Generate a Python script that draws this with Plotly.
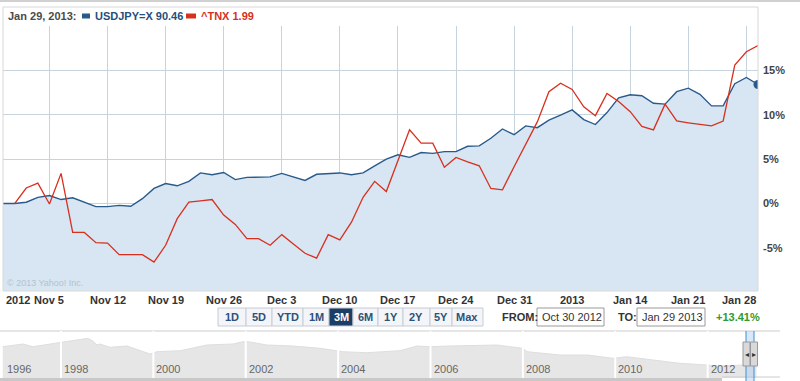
import pandas as pd
import plotly.graph_objects as go

# ---------------- data ----------------
dates = pd.bdate_range("2012-10-30", "2013-01-29")  # trading days shown on the axis

usdjpy_pct = [0, 0.0, 0.15, 0.7, 0.9, 0.45, 0.65, 0.15, -0.35, -0.35,
              -0.2, -0.3, 0.55, 1.7, 2.25, 2.0, 2.5, 3.45, 3.25, 3.5,
              2.7, 2.95, 3.0, 3.0, 3.4, 3.0, 2.6, 3.3, 3.35, 3.45,
              3.25, 3.45, 4.25, 5.0, 5.5, 5.2, 5.75, 5.65, 5.85, 5.85,
              6.45, 6.5, 7.35, 8.4, 7.75, 8.75, 8.55, 9.4, 9.95, 10.55,
              9.45, 8.9, 10.25, 11.9, 12.25, 12.15, 11.3, 11.2, 12.6, 13.0,
              12.3, 11.0, 11.0, 13.5, 14.2, 13.41]

tnx_pct = [None, 0, 1.75, 2.3, -0.05, 3.4, -3.25, -3.25, -4.4, -4.45,
           -5.75, -5.75, -5.75, -6.6, -4.7, -1.7, 0.15, 0.3, 0.45, -1.3,
           -2.35, -3.95, -3.95, -4.7, -3.5, -4.55, -5.6, -6.15, -3.5, -4.1,
           -2.1, 0.7, 2.5, 1.35, 4.8, 8.3, 6.8, 6.8, 4.1, 5.2,
           4.7, 4.25, 1.7, 1.55, 4.15, 6.7, 9.2, 12.6, 13.55, 12.85,
           10.9, 9.9, 12.4, 11.5, 10.35, 8.7, 8.3, 11.2, 9.3, 9.1,
           8.95, 8.75, 9.3, 15.6, 17.1, 17.8]

week_ticks = ["2012-11-05", "2012-11-12", "2012-11-19", "2012-11-26", "2012-12-03",
              "2012-12-10", "2012-12-17", "2012-12-24", "2012-12-31", "2013-01-07",
              "2013-01-14", "2013-01-21", "2013-01-28"]
week_labels = ["Nov 5", "Nov 12", "Nov 19", "Nov 26", "Dec 3", "Dec 10", "Dec 17",
               "Dec 24", "Dec 31", "2013", "Jan 14", "Jan 21", "Jan 28"]

y_ticks = [-5, 0, 5, 10, 15]
y_labels = ["-5%", "0%", "5%", "10%", "15%"]

# navigator (long-term overview)
nav_years = [1996.74, 1997.18, 1997.39, 1997.76, 1997.94, 1998.04, 1998.41, 1998.58,
             1998.69, 1998.78, 1998.84, 1999.06, 1999.43, 1999.71, 1999.93, 2000.08,
             2000.58, 2001.16, 2001.72, 2001.94, 2002.05, 2002.46, 2003.02, 2003.61,
             2003.97, 2004.10, 2004.62, 2005.34, 2005.71, 2005.99, 2006.42, 2007.44,
             2008.00, 2008.09, 2008.80, 2009.39, 2009.95, 2010.25, 2010.82, 2011.40,
             2011.98, 2012.26, 2012.76, 2013.06]
nav_level = [31.3, 34, 31.3, 34, 35.3, 36.3, 38.7, 39.7,
             37, 33, 34, 30.7, 32, 27.3, 24, 26.3,
             27.3, 33, 34, 36.3, 36.3, 33, 32, 29.7,
             27.3, 26.3, 25.3, 27.3, 32, 31.3, 32, 33,
             29.7, 26.3, 23, 23, 19.7, 21.3, 18, 14.7,
             13, 12, 13, 15]
nav_label_years = [1998, 2000, 2002, 2004, 2006, 2008, 2010, 2012]

buttons = ["1D", "5D", "YTD", "1M", "3M", "6M", "1Y", "2Y", "5Y", "Max"]
selected_button = "3M"

# ---------------- layout helpers ----------------
W, H, R = 800, 381, 42
PW = W - R


def px(x):
    return x / PW


def py(y):
    return 1 - y / H


BLUE = "#295a8b"
FILL = "#d7e6f2"
RED = "#d7301f"
GRID = "#c7d3dd"
FONT = "Liberation Sans, Arial, sans-serif"

ymin, ymax = -9.85, 20

fig = go.Figure()
fig.add_trace(go.Scatter(x=dates, y=[ymin] * len(dates), mode="lines",
                         line=dict(width=0), hoverinfo="skip", showlegend=False))
fig.add_trace(go.Scatter(x=dates, y=usdjpy_pct, mode="lines", fill="tonexty",
                         fillcolor=FILL, line=dict(color=BLUE, width=1.4),
                         showlegend=False))
fig.add_trace(go.Scatter(x=dates, y=tnx_pct, mode="lines",
                         line=dict(color=RED, width=1.3), showlegend=False))
fig.add_trace(go.Scatter(x=[dates[-1]], y=[usdjpy_pct[-1]], mode="markers",
                         marker=dict(color=BLUE, size=9), showlegend=False))

fig.add_trace(go.Scatter(x=nav_years, y=nav_level, mode="lines", fill="tozeroy",
                         fillcolor="#e6e6e6", line=dict(color="#dedede", width=1),
                         xaxis="x2", yaxis="y2", showlegend=False))

shapes = []
ann = []

# top page line
shapes.append(dict(type="line", xref="paper", yref="paper", x0=px(0), x1=px(800),
                   y0=py(1), y1=py(1), line=dict(color="#d0d0d0", width=2)))
# chart frame
shapes.append(dict(type="rect", xref="paper", yref="paper", x0=px(3), x1=px(758),
                   y0=py(291), y1=py(7), line=dict(color="#d8d8d8", width=1),
                   layer="above"))

# legend row
ann.append(dict(text="<b>Jan 29, 2013:</b>", x=px(6), y=py(16), xref="paper", yref="paper",
                xanchor="left", yanchor="middle", showarrow=False,
                font=dict(size=11, color="#4a4a4a", family=FONT)))
shapes.append(dict(type="rect", xref="paper", yref="paper", x0=px(82), x1=px(90),
                   y0=py(18.5), y1=py(13.5), fillcolor=BLUE, line=dict(width=0)))
ann.append(dict(text="<b>USDJPY=X 90.46</b>", x=px(93), y=py(16), xref="paper", yref="paper",
                xanchor="left", yanchor="middle", showarrow=False,
                font=dict(size=11, color="#244f7c", family=FONT)))
shapes.append(dict(type="rect", xref="paper", yref="paper", x0=px(186), x1=px(196),
                   y0=py(18.5), y1=py(13.5), fillcolor=RED, line=dict(width=0)))
ann.append(dict(text="<b>^TNX 1.99</b>", x=px(199), y=py(16), xref="paper", yref="paper",
                xanchor="left", yanchor="middle", showarrow=False,
                font=dict(size=11, color=RED, family=FONT)))

# copyright
ann.append(dict(text="© 2013 Yahoo! Inc.", x=px(5), y=py(283), xref="paper", yref="paper",
                xanchor="left", yanchor="middle", showarrow=False,
                font=dict(size=9, color="#b4c2ce", family=FONT)))

# x labels
ann.append(dict(text="<b>2012</b>", x=dates[0], y=py(300), xref="x", yref="paper",
                xanchor="left", yanchor="middle", showarrow=False, xshift=1,
                font=dict(size=11, color="#333", family=FONT)))
for d, lab in zip(week_ticks, week_labels):
    shift = -7 if lab == "Jan 28" else 0
    ann.append(dict(text="<b>%s</b>" % lab, x=d, y=py(300), xref="x", yref="paper",
                    xanchor="center", yanchor="middle", showarrow=False, xshift=shift,
                    font=dict(size=11, color="#333", family=FONT)))

# range buttons
edges = [218, 246, 272, 303, 329, 353, 378, 403, 430, 452, 483]
for i, b in enumerate(buttons):
    sel = b == selected_button
    shapes.append(dict(type="rect", xref="paper", yref="paper", x0=px(edges[i]),
                       x1=px(edges[i + 1]), y0=py(326), y1=py(308),
                       fillcolor="#1d3e64" if sel else "#f3f5f8",
                       line=dict(color="#c5ccd4", width=1)))
    ann.append(dict(text="<b>%s</b>" % b, x=px((edges[i] + edges[i + 1]) / 2), y=py(317),
                    xref="paper", yref="paper", xanchor="center", yanchor="middle",
                    showarrow=False,
                    font=dict(size=11, color="white" if sel else "#2d5179", family=FONT)))

# from / to
ann.append(dict(text="<b>FROM:</b>", x=px(500), y=py(317), xref="paper", yref="paper",
                xanchor="left", yanchor="middle", showarrow=False,
                font=dict(size=11, color="#333", family=FONT)))
shapes.append(dict(type="rect", xref="paper", yref="paper", x0=px(537), x1=px(604),
                   y0=py(326), y1=py(308), fillcolor="white",
                   line=dict(color="#9a9a9a", width=1)))
ann.append(dict(text="Oct 30 2012", x=px(540), y=py(317), xref="paper", yref="paper",
                xanchor="left", yanchor="middle", showarrow=False,
                font=dict(size=11, color="#333", family=FONT)))
ann.append(dict(text="<b>TO:</b>", x=px(616), y=py(317), xref="paper", yref="paper",
                xanchor="left", yanchor="middle", showarrow=False,
                font=dict(size=11, color="#333", family=FONT)))
shapes.append(dict(type="rect", xref="paper", yref="paper", x0=px(637), x1=px(705),
                   y0=py(326), y1=py(308), fillcolor="white",
                   line=dict(color="#9a9a9a", width=1)))
ann.append(dict(text="Jan 29 2013", x=px(640), y=py(317), xref="paper", yref="paper",
                xanchor="left", yanchor="middle", showarrow=False,
                font=dict(size=11, color="#333", family=FONT)))
ann.append(dict(text="<b>+13.41%</b>", x=px(714), y=py(317), xref="paper", yref="paper",
                xanchor="left", yanchor="middle", showarrow=False,
                font=dict(size=11, color="#2e9a2e", family=FONT)))

# navigator frame lines
shapes.append(dict(type="line", xref="paper", yref="paper", x0=px(0), x1=px(780),
                   y0=py(331), y1=py(331), line=dict(color="#cccccc", width=1)))
shapes.append(dict(type="line", xref="paper", yref="paper", x0=px(0), x1=px(722),
                   y0=py(379.5), y1=py(379.5), line=dict(color="#c8c8c8", width=3)))
shapes.append(dict(type="line", xref="paper", yref="paper", x0=px(722), x1=px(780),
                   y0=py(377), y1=py(377), line=dict(color="#cccccc", width=1)))
for yr in nav_label_years:
    shapes.append(dict(type="line", xref="x2", yref="paper", x0=yr, x1=yr,
                       y0=py(378), y1=py(331), line=dict(color="white", width=2),
                       layer="above"))
    ann.append(dict(text=str(yr), x=yr, y=py(369), xref="x2", yref="paper",
                    xanchor="left", yanchor="middle", showarrow=False, xshift=1,
                    font=dict(size=11, color="#666", family=FONT)))
ann.append(dict(text="1996", x=px(5), y=py(369), xref="paper", yref="paper",
                xanchor="left", yanchor="middle", showarrow=False,
                font=dict(size=11, color="#666", family=FONT)))

# selection handles
shapes.append(dict(type="rect", xref="paper", yref="paper", x0=px(746), x1=px(754),
                   y0=py(381), y1=py(331), fillcolor="rgba(170,205,240,0.45)",
                   line=dict(width=0), layer="above"))
for xl in (746, 754):
    shapes.append(dict(type="line", xref="paper", yref="paper", x0=px(xl), x1=px(xl),
                       y0=py(381), y1=py(331), line=dict(color="#3b8fd6", width=1),
                       layer="above"))
for x0, x1, g in ((743, 750, "◂"), (750.5, 757.5, "▸")):
    shapes.append(dict(type="rect", xref="paper", yref="paper", x0=px(x0), x1=px(x1),
                       y0=py(366), y1=py(342), fillcolor="#d9d9d9",
                       line=dict(color="#999", width=1), layer="above"))
    ann.append(dict(text=g, x=px((x0 + x1) / 2), y=py(354), xref="paper", yref="paper",
                    xanchor="center", yanchor="middle", showarrow=False,
                    font=dict(size=8, color="#333", family=FONT)))

fig.update_layout(
    width=W, height=H,
    margin=dict(l=0, r=R, t=0, b=0),
    paper_bgcolor="white", plot_bgcolor="white",
    showlegend=False,
    shapes=shapes, annotations=ann,
    xaxis=dict(type="date", range=[dates[0], dates[-1]],
               rangebreaks=[dict(bounds=["sat", "mon"])],
               domain=[px(3), 1], tickvals=week_ticks, showticklabels=False,
               showgrid=True, gridcolor=GRID, gridwidth=1, zeroline=False,
               showline=False, ticks="", anchor="y"),
    yaxis=dict(side="right", range=[ymin, ymax], domain=[py(291), py(26)],
               tickvals=y_ticks, ticktext=["<b>%s</b>" % t for t in y_labels],
               tickfont=dict(size=11, color="#444", family=FONT),
               showgrid=True, gridcolor=GRID, gridwidth=1, zeroline=False,
               showline=False, ticks="", ticklabelstandoff=4, anchor="x"),
    xaxis2=dict(range=[1996.68, 2013.09], domain=[0, 1], anchor="y2",
                showgrid=False, showticklabels=False, zeroline=False, ticks=""),
    yaxis2=dict(range=[0, 47], domain=[py(378), py(331)], anchor="x2",
                showgrid=False, showticklabels=False, zeroline=False, ticks=""),
    font=dict(family=FONT),
)

fig.write_html("out.html", config={"displayModeBar": False},
               post_script="document.body.style.margin='0px';document.body.style.overflow='hidden';")
